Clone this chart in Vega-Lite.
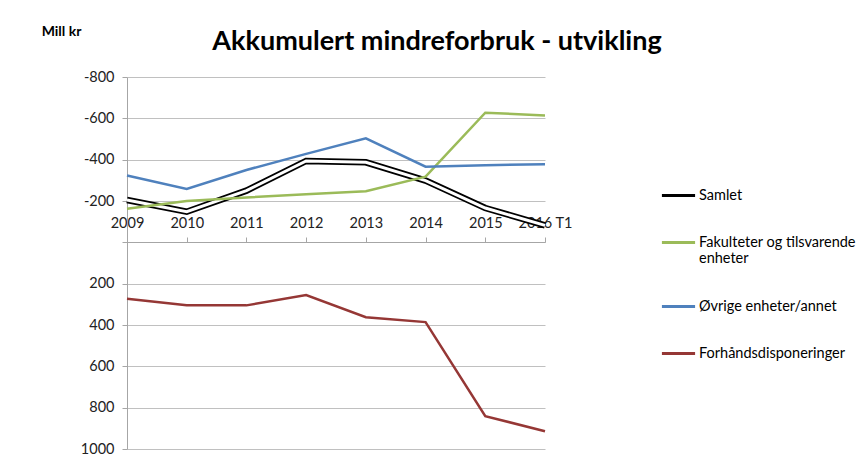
{
  "$schema": "https://vega.github.io/schema/vega-lite/v6.json",
  "width": 418,
  "height": 372,
  "autosize": {"type": "none"},
  "padding": {"left": 127, "top": 77, "right": 321, "bottom": 10},
  "background": "white",
  "config": {
    "font": "Lato",
    "view": {"stroke": null}
  },
  "title": {
    "text": "Akkumulert mindreforbruk - utvikling",
    "font": "Lato",
    "fontSize": 27,
    "fontWeight": "bold",
    "color": "#000000",
    "anchor": "middle",
    "dx": 101,
    "offset": -32
  },
  "data": {
    "values": [
      {"year": "2009", "series": "Samlet", "value": -205},
      {"year": "2010", "series": "Samlet", "value": -148},
      {"year": "2011", "series": "Samlet", "value": -250},
      {"year": "2012", "series": "Samlet", "value": -394},
      {"year": "2013", "series": "Samlet", "value": -387},
      {"year": "2014", "series": "Samlet", "value": -299},
      {"year": "2015", "series": "Samlet", "value": -166},
      {"year": "2016 T1", "series": "Samlet", "value": -82},
      {"year": "2009", "series": "Fakulteter og tilsvarende enheter", "value": -162},
      {"year": "2010", "series": "Fakulteter og tilsvarende enheter", "value": -200},
      {"year": "2011", "series": "Fakulteter og tilsvarende enheter", "value": -217},
      {"year": "2012", "series": "Fakulteter og tilsvarende enheter", "value": -233},
      {"year": "2013", "series": "Fakulteter og tilsvarende enheter", "value": -247},
      {"year": "2014", "series": "Fakulteter og tilsvarende enheter", "value": -318},
      {"year": "2015", "series": "Fakulteter og tilsvarende enheter", "value": -627},
      {"year": "2016 T1", "series": "Fakulteter og tilsvarende enheter", "value": -614},
      {"year": "2009", "series": "Øvrige enheter/annet", "value": -323},
      {"year": "2010", "series": "Øvrige enheter/annet", "value": -258},
      {"year": "2011", "series": "Øvrige enheter/annet", "value": -350},
      {"year": "2012", "series": "Øvrige enheter/annet", "value": -428},
      {"year": "2013", "series": "Øvrige enheter/annet", "value": -503},
      {"year": "2014", "series": "Øvrige enheter/annet", "value": -366},
      {"year": "2015", "series": "Øvrige enheter/annet", "value": -373},
      {"year": "2016 T1", "series": "Øvrige enheter/annet", "value": -378},
      {"year": "2009", "series": "Forhåndsdisponeringer", "value": 273},
      {"year": "2010", "series": "Forhåndsdisponeringer", "value": 305},
      {"year": "2011", "series": "Forhåndsdisponeringer", "value": 305},
      {"year": "2012", "series": "Forhåndsdisponeringer", "value": 255},
      {"year": "2013", "series": "Forhåndsdisponeringer", "value": 362},
      {"year": "2014", "series": "Forhåndsdisponeringer", "value": 386},
      {"year": "2015", "series": "Forhåndsdisponeringer", "value": 841},
      {"year": "2016 T1", "series": "Forhåndsdisponeringer", "value": 914}
    ]
  },
  "encoding": {
    "x": {
      "field": "year",
      "type": "ordinal",
      "sort": null,
      "scale": {"type": "point", "padding": 0},
      "axis": {
        "orient": "top",
        "offset": -165,
        "title": null,
        "labelAngle": 0,
        "labelFont": "Lato",
        "labelFontSize": 14.5,
        "labelColor": "#222222",
        "labelPadding": 7,
        "tickSize": 5,
        "tickColor": "#a6a6a6",
        "domainColor": "#a6a6a6",
        "grid": false,
        "zindex": 0
      }
    },
    "y": {
      "field": "value",
      "type": "quantitative",
      "scale": {"domain": [-800, 1000], "reverse": true, "nice": false},
      "axis": {
        "values": [-800, -600, -400, -200, 0, 200, 400, 600, 800, 1000],
        "labelExpr": "datum.value == 0 ? '' : '' + datum.value",
        "title": "Mill kr",
        "titleAngle": 0,
        "titleFont": "Lato",
        "titleFontSize": 14,
        "titleFontWeight": "bold",
        "titleColor": "#000000",
        "titleAlign": "center",
        "titleBaseline": "middle",
        "titleX": -66,
        "titleY": -46,
        "labelFont": "Lato",
        "labelFontSize": 14.5,
        "labelColor": "#222222",
        "labelPadding": 8,
        "tickSize": 5,
        "tickColor": "#a6a6a6",
        "domainColor": "#a6a6a6",
        "grid": true,
        "gridColor": "#c0c0c0",
        "gridWidth": 1
      }
    }
  },
  "layer": [
    {
      "transform": [{"filter": "datum.series == 'Samlet'"}],
      "mark": {"type": "line", "strokeWidth": 6.5},
      "encoding": {
        "color": {
          "field": "series",
          "type": "nominal",
          "scale": {
            "domain": ["Samlet", "Fakulteter og tilsvarende enheter", "Øvrige enheter/annet", "Forhåndsdisponeringer"],
            "range": ["#000000", "#9bbb59", "#4f81bd", "#953735"]
          },
          "legend": {
            "title": null,
            "orient": "none",
            "legendX": 533,
            "legendY": 100,
            "symbolType": "stroke",
            "symbolSize": 1100,
            "symbolStrokeWidth": 3,
            "labelFont": "Lato",
            "labelFontSize": 14.5,
            "labelColor": "#000000",
            "labelLimit": 300,
            "labelOffset": 2,
            "rowPadding": 22,
            "labelExpr": "datum.label == 'Fakulteter og tilsvarende enheter' ? ['Fakulteter og tilsvarende', 'enheter'] : datum.label"
          }
        }
      }
    },
    {
      "transform": [{"filter": "datum.series == 'Samlet'"}],
      "mark": {"type": "line", "strokeWidth": 3, "color": "#ffffff"},
      "encoding": {}
    },
    {
      "transform": [{"filter": "datum.series != 'Samlet'"}],
      "mark": {"type": "line", "strokeWidth": 2.5},
      "encoding": {
        "color": {"field": "series", "type": "nominal"}
      }
    }
  ]
}
